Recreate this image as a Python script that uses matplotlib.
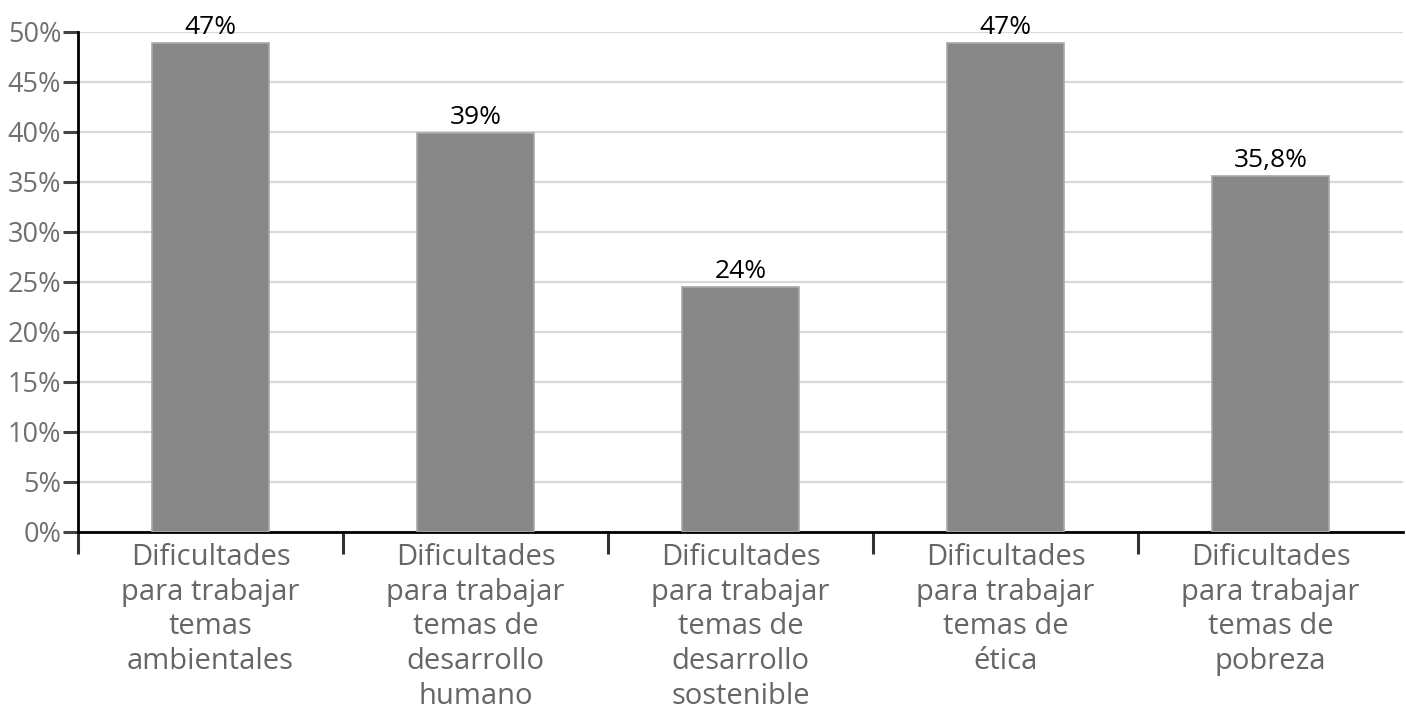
import matplotlib.pyplot as plt

# Datos
categorias = [
    "Dificultades\npara trabajar\ntemas\nambientales",
    "Dificultades\npara trabajar\ntemas de\ndesarrollo\nhumano",
    "Dificultades\npara trabajar\ntemas de\ndesarrollo\nsostenible",
    "Dificultades\npara trabajar\ntemas de\nética",
    "Dificultades\npara trabajar\ntemas de\npobreza",
]
alturas = [48.9, 39.9, 24.5, 48.9, 35.6]   # altura de las barras
etiquetas = ["47%", "39%", "24%", "47%", "35,8%"]
yticks = [0, 5, 10, 15, 20, 25, 30, 35, 40, 45, 50]

plt.rcParams['font.family'] = ['Open Sans', 'DejaVu Sans']

fig = plt.figure(figsize=(14.06, 7.11), dpi=100)
ax = fig.add_axes([0.0555, 0.252, 0.9425, 0.703])

x = list(range(len(categorias)))
barras = ax.bar(x, alturas, width=0.44, color='#878787', edgecolor='#a8a8a8',
                linewidth=1.2, zorder=3)

for b, txt in zip(barras, etiquetas):
    ax.annotate(txt, (b.get_x() + b.get_width() / 2, b.get_height()),
                xytext=(0, 2), textcoords='offset points', ha='center', va='bottom',
                fontsize=19, color='black')

ax.set_xlim(-0.5, len(categorias) - 0.5)
ax.set_ylim(0, 50)
ax.set_yticks(yticks)
ax.set_yticklabels([f"{v}%" for v in yticks], fontsize=19.5, color='#707070')
ax.yaxis.grid(True, color='#d8d8d8', linewidth=1.6, zorder=0)
ax.set_axisbelow(True)

ax.set_xticks(x)
ax.set_xticklabels(categorias, fontsize=21, color='#666666', linespacing=1.26)
ax.tick_params(axis='x', which='major', length=0, pad=8)
ax.set_xticks([i - 0.5 for i in range(len(categorias))], minor=True)
ax.tick_params(axis='x', which='minor', length=16, width=2.2, color='#333333', direction='out')
ax.tick_params(axis='y', length=11, width=2.2, color='#444444', direction='out', pad=1)

for s in ['top', 'right']:
    ax.spines[s].set_visible(False)
ax.spines['left'].set_linewidth(2)
ax.spines['bottom'].set_linewidth(2)

plt.savefig("out.png", dpi=100)
